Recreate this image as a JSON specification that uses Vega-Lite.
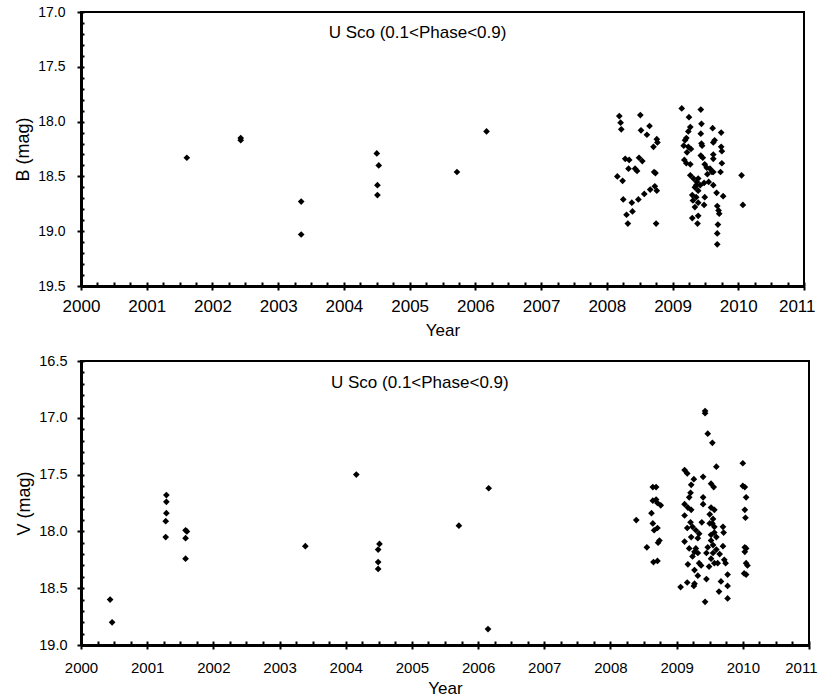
{
  "$schema": "https://vega.github.io/schema/vega-lite/v6.json",
  "background": "white",
  "padding": {"left": 13, "top": 4, "right": 0, "bottom": 0},
  "spacing": 13,
  "config": {
    "font": "Liberation Sans",
    "view": {"stroke": "black", "strokeWidth": 2},
    "axis": {
      "grid": false,
      "domainColor": "black",
      "tickColor": "black",
      "labelColor": "black",
      "titleColor": "black",
      "titleFontWeight": "normal",
      "labelFont": "Liberation Sans",
      "titleFont": "Liberation Sans"
    }
  },
  "datasets": {
    "B": [
      {"year": 2001.61, "mag": 18.33}, {"year": 2002.43, "mag": 18.15}, {"year": 2002.43, "mag": 18.17},
      {"year": 2003.35, "mag": 18.73}, {"year": 2003.35, "mag": 19.03}, {"year": 2004.50, "mag": 18.29},
      {"year": 2004.53, "mag": 18.40}, {"year": 2004.51, "mag": 18.58}, {"year": 2004.51, "mag": 18.67},
      {"year": 2005.72, "mag": 18.46}, {"year": 2006.17, "mag": 18.09},
      {"year": 2008.19, "mag": 17.95}, {"year": 2008.21, "mag": 18.01}, {"year": 2008.22, "mag": 18.07},
      {"year": 2008.51, "mag": 17.94}, {"year": 2008.52, "mag": 18.08}, {"year": 2008.61, "mag": 18.12},
      {"year": 2008.65, "mag": 18.04}, {"year": 2008.76, "mag": 18.16}, {"year": 2008.77, "mag": 18.19},
      {"year": 2008.71, "mag": 18.23}, {"year": 2008.28, "mag": 18.34}, {"year": 2008.34, "mag": 18.35},
      {"year": 2008.49, "mag": 18.33}, {"year": 2008.54, "mag": 18.36}, {"year": 2008.33, "mag": 18.43},
      {"year": 2008.43, "mag": 18.43}, {"year": 2008.46, "mag": 18.45}, {"year": 2008.16, "mag": 18.50},
      {"year": 2008.24, "mag": 18.54}, {"year": 2008.72, "mag": 18.46}, {"year": 2008.74, "mag": 18.47},
      {"year": 2008.73, "mag": 18.59}, {"year": 2008.76, "mag": 18.63}, {"year": 2008.66, "mag": 18.62},
      {"year": 2008.57, "mag": 18.66}, {"year": 2008.48, "mag": 18.71}, {"year": 2008.38, "mag": 18.74},
      {"year": 2008.25, "mag": 18.71}, {"year": 2008.39, "mag": 18.82}, {"year": 2008.30, "mag": 18.85},
      {"year": 2008.32, "mag": 18.93}, {"year": 2008.75, "mag": 18.93},
      {"year": 2009.14, "mag": 17.88}, {"year": 2009.43, "mag": 17.89}, {"year": 2009.25, "mag": 17.96},
      {"year": 2009.27, "mag": 18.05}, {"year": 2009.44, "mag": 18.02}, {"year": 2009.24, "mag": 18.09},
      {"year": 2009.43, "mag": 18.11}, {"year": 2009.61, "mag": 18.06}, {"year": 2009.74, "mag": 18.10},
      {"year": 2009.21, "mag": 18.15}, {"year": 2009.19, "mag": 18.17}, {"year": 2009.17, "mag": 18.22},
      {"year": 2009.24, "mag": 18.23}, {"year": 2009.28, "mag": 18.25}, {"year": 2009.22, "mag": 18.28},
      {"year": 2009.44, "mag": 18.20}, {"year": 2009.45, "mag": 18.22}, {"year": 2009.62, "mag": 18.19},
      {"year": 2009.64, "mag": 18.17}, {"year": 2009.74, "mag": 18.23}, {"year": 2009.75, "mag": 18.27},
      {"year": 2009.43, "mag": 18.31}, {"year": 2009.46, "mag": 18.33}, {"year": 2009.62, "mag": 18.30},
      {"year": 2009.62, "mag": 18.34}, {"year": 2009.75, "mag": 18.38}, {"year": 2009.18, "mag": 18.35},
      {"year": 2009.21, "mag": 18.38}, {"year": 2009.27, "mag": 18.39}, {"year": 2009.49, "mag": 18.39},
      {"year": 2009.52, "mag": 18.42}, {"year": 2009.57, "mag": 18.43}, {"year": 2009.60, "mag": 18.46},
      {"year": 2009.53, "mag": 18.48}, {"year": 2009.62, "mag": 18.46}, {"year": 2009.73, "mag": 18.46},
      {"year": 2010.05, "mag": 18.49}, {"year": 2009.27, "mag": 18.49}, {"year": 2009.32, "mag": 18.52},
      {"year": 2009.37, "mag": 18.55}, {"year": 2009.42, "mag": 18.58}, {"year": 2009.48, "mag": 18.56},
      {"year": 2009.55, "mag": 18.55}, {"year": 2009.62, "mag": 18.58}, {"year": 2009.34, "mag": 18.60},
      {"year": 2009.39, "mag": 18.63}, {"year": 2009.30, "mag": 18.67}, {"year": 2009.31, "mag": 18.72},
      {"year": 2009.36, "mag": 18.69}, {"year": 2009.67, "mag": 18.65}, {"year": 2009.77, "mag": 18.68},
      {"year": 2009.49, "mag": 18.69}, {"year": 2009.48, "mag": 18.76}, {"year": 2009.39, "mag": 18.74},
      {"year": 2009.34, "mag": 18.78}, {"year": 2009.68, "mag": 18.77}, {"year": 2009.70, "mag": 18.81},
      {"year": 2009.71, "mag": 18.84}, {"year": 2010.07, "mag": 18.76}, {"year": 2009.30, "mag": 18.88},
      {"year": 2009.39, "mag": 18.86}, {"year": 2009.38, "mag": 18.93}, {"year": 2009.69, "mag": 18.94},
      {"year": 2009.68, "mag": 19.02}, {"year": 2009.68, "mag": 19.12}, {"year": 2009.36, "mag": 18.58},
      {"year": 2009.39, "mag": 18.52}
    ],
    "V": [
      {"year": 2000.44, "mag": 18.60}, {"year": 2000.47, "mag": 18.80},
      {"year": 2001.29, "mag": 17.68}, {"year": 2001.29, "mag": 17.74}, {"year": 2001.29, "mag": 17.84},
      {"year": 2001.28, "mag": 17.91}, {"year": 2001.28, "mag": 18.05},
      {"year": 2001.58, "mag": 17.99}, {"year": 2001.60, "mag": 18.00}, {"year": 2001.58, "mag": 18.06},
      {"year": 2001.58, "mag": 18.24}, {"year": 2003.39, "mag": 18.13}, {"year": 2004.16, "mag": 17.50},
      {"year": 2004.51, "mag": 18.11}, {"year": 2004.49, "mag": 18.16}, {"year": 2004.49, "mag": 18.27},
      {"year": 2004.49, "mag": 18.33}, {"year": 2005.71, "mag": 17.95}, {"year": 2006.16, "mag": 17.62},
      {"year": 2006.15, "mag": 18.86},
      {"year": 2008.39, "mag": 17.90}, {"year": 2008.64, "mag": 17.61}, {"year": 2008.69, "mag": 17.61},
      {"year": 2008.64, "mag": 17.73}, {"year": 2008.69, "mag": 17.72}, {"year": 2008.71, "mag": 17.75},
      {"year": 2008.76, "mag": 17.77}, {"year": 2008.62, "mag": 17.84}, {"year": 2008.64, "mag": 17.93},
      {"year": 2008.71, "mag": 17.97}, {"year": 2008.66, "mag": 17.99}, {"year": 2008.74, "mag": 18.08},
      {"year": 2008.72, "mag": 18.10}, {"year": 2008.55, "mag": 18.14}, {"year": 2008.65, "mag": 18.27},
      {"year": 2008.71, "mag": 18.26},
      {"year": 2009.43, "mag": 16.94}, {"year": 2009.43, "mag": 16.96}, {"year": 2009.47, "mag": 17.14},
      {"year": 2009.54, "mag": 17.22}, {"year": 2009.60, "mag": 17.43}, {"year": 2009.12, "mag": 17.46},
      {"year": 2009.16, "mag": 17.49}, {"year": 2009.40, "mag": 17.52}, {"year": 2009.26, "mag": 17.54},
      {"year": 2009.22, "mag": 17.59}, {"year": 2009.52, "mag": 17.58}, {"year": 2009.56, "mag": 17.61},
      {"year": 2009.21, "mag": 17.66}, {"year": 2009.19, "mag": 17.70}, {"year": 2009.40, "mag": 17.70},
      {"year": 2009.12, "mag": 17.76}, {"year": 2009.17, "mag": 17.79}, {"year": 2009.22, "mag": 17.81},
      {"year": 2009.40, "mag": 17.76}, {"year": 2009.52, "mag": 17.79}, {"year": 2009.57, "mag": 17.81},
      {"year": 2009.12, "mag": 17.86}, {"year": 2009.21, "mag": 17.92}, {"year": 2009.38, "mag": 17.92},
      {"year": 2009.50, "mag": 17.85}, {"year": 2009.55, "mag": 17.89}, {"year": 2009.16, "mag": 17.97},
      {"year": 2009.24, "mag": 17.96}, {"year": 2009.29, "mag": 17.99}, {"year": 2009.50, "mag": 17.93},
      {"year": 2009.57, "mag": 17.96}, {"year": 2009.70, "mag": 17.96}, {"year": 2009.71, "mag": 18.01},
      {"year": 2009.12, "mag": 18.09}, {"year": 2009.22, "mag": 18.05}, {"year": 2009.32, "mag": 18.06},
      {"year": 2009.34, "mag": 18.02}, {"year": 2009.52, "mag": 18.03}, {"year": 2009.60, "mag": 18.05},
      {"year": 2009.19, "mag": 18.15}, {"year": 2009.27, "mag": 18.18}, {"year": 2009.29, "mag": 18.15},
      {"year": 2009.47, "mag": 18.14}, {"year": 2009.55, "mag": 18.12}, {"year": 2009.70, "mag": 18.13},
      {"year": 2009.24, "mag": 18.22}, {"year": 2009.32, "mag": 18.19}, {"year": 2009.45, "mag": 18.19},
      {"year": 2009.65, "mag": 18.20}, {"year": 2009.52, "mag": 18.24}, {"year": 2009.17, "mag": 18.29},
      {"year": 2009.34, "mag": 18.28}, {"year": 2009.37, "mag": 18.30}, {"year": 2009.49, "mag": 18.31},
      {"year": 2009.57, "mag": 18.28}, {"year": 2009.72, "mag": 18.25}, {"year": 2009.62, "mag": 18.28},
      {"year": 2009.74, "mag": 18.28}, {"year": 2009.27, "mag": 18.34}, {"year": 2009.32, "mag": 18.39},
      {"year": 2009.45, "mag": 18.42}, {"year": 2009.77, "mag": 18.38}, {"year": 2009.67, "mag": 18.44},
      {"year": 2009.16, "mag": 18.45}, {"year": 2009.06, "mag": 18.49}, {"year": 2009.27, "mag": 18.46},
      {"year": 2009.26, "mag": 18.48}, {"year": 2009.77, "mag": 18.48}, {"year": 2009.64, "mag": 18.53},
      {"year": 2009.77, "mag": 18.59}, {"year": 2009.43, "mag": 18.62}, {"year": 2009.54, "mag": 17.93},
      {"year": 2009.57, "mag": 18.01}, {"year": 2009.52, "mag": 18.08}, {"year": 2009.55, "mag": 18.19},
      {"year": 2009.60, "mag": 18.16},
      {"year": 2010.00, "mag": 17.40}, {"year": 2010.00, "mag": 17.60}, {"year": 2010.03, "mag": 17.61},
      {"year": 2010.05, "mag": 17.70}, {"year": 2010.03, "mag": 17.81}, {"year": 2010.04, "mag": 17.88},
      {"year": 2010.03, "mag": 18.14}, {"year": 2010.05, "mag": 18.15}, {"year": 2010.03, "mag": 18.18},
      {"year": 2010.05, "mag": 18.28}, {"year": 2010.07, "mag": 18.30}, {"year": 2010.02, "mag": 18.37},
      {"year": 2010.05, "mag": 18.38}
    ]
  },
  "vconcat": [
    {
      "width": 723,
      "height": 274,
      "resolve": {"axis": {"x": "independent", "y": "independent"}},
      "layer": [
        {
          "data": {"name": "B"},
          "mark": {"type": "point", "shape": "diamond", "filled": true, "color": "black", "size": 45, "opacity": 1},
          "encoding": {
            "x": {"field": "year", "type": "quantitative",
              "scale": {"domain": [2000, 2011], "nice": false, "zero": false},
              "axis": {"orient": "bottom", "values": [2000,2001,2002,2003,2004,2005,2006,2007,2008,2009,2010], "format": "d",
                "labelFontSize": 17, "labelPadding": 8, "tickSize": 4, "tickWidth": 2, "domainWidth": 3,
                "title": "Year", "titleFontSize": 17, "titlePadding": 8, "labelFlush": false, "labelOverlap": false}},
            "y": {"field": "mag", "type": "quantitative",
              "scale": {"domain": [17, 19.5], "reverse": true, "nice": false, "zero": false},
              "axis": {"orient": "left", "values": [17, 17.5, 18, 18.5, 19, 19.5], "format": ".1f",
                "labelFontSize": 14, "labelPadding": 12, "tickSize": 4, "tickWidth": 2, "domainWidth": 3,
                "title": "B (mag)", "titleFontSize": 18, "titlePadding": 5, "labelFlush": false, "labelOverlap": false}}
          }
        },
        {
          "data": {"values": [{}]},
          "mark": {"type": "text", "text": "U Sco (0.1<Phase<0.9)", "fontSize": 17, "align": "center", "baseline": "alphabetic", "color": "black", "font": "Liberation Sans"},
          "encoding": {
            "x": {"datum": 2005.12, "type": "quantitative",
              "axis": {"orient": "bottom", "values": [2000,2000.25,2000.5,2000.75,2001,2001.25,2001.5,2001.75,2002,2002.25,2002.5,2002.75,2003,2003.25,2003.5,2003.75,2004,2004.25,2004.5,2004.75,2005,2005.25,2005.5,2005.75,2006,2006.25,2006.5,2006.75,2007,2007.25,2007.5,2007.75,2008,2008.25,2008.5,2008.75,2009,2009.25,2009.5,2009.75,2010,2010.25,2010.5,2010.75,2011],
                "labels": false, "domain": false, "tickSize": -4, "tickWidth": 2, "title": null}},
            "y": {"datum": 17.235, "type": "quantitative",
              "axis": {"orient": "left", "values": [17,17.1,17.2,17.3,17.4,17.5,17.6,17.7,17.8,17.9,18,18.1,18.2,18.3,18.4,18.5,18.6,18.7,18.8,18.9,19,19.1,19.2,19.3,19.4,19.5],
                "labels": false, "domain": false, "tickSize": -3, "tickWidth": 2, "title": null}}
          }
        },
        {
          "data": {"name": "B"},
          "mark": {"type": "point", "opacity": 0, "size": 1},
          "encoding": {
            "x": {"field": "year", "type": "quantitative",
              "axis": {"orient": "bottom", "values": [2011], "format": "d", "labelFontSize": 17, "labelPadding": 8,
                "tickSize": 4, "tickWidth": 2, "domain": false, "title": null, "labelFlush": true, "labelFlushOffset": 11, "labelOverlap": false}}
          }
        }
      ]
    },
    {
      "width": 728,
      "height": 284,
      "resolve": {"axis": {"x": "independent", "y": "independent"}},
      "layer": [
        {
          "data": {"name": "V"},
          "mark": {"type": "point", "shape": "diamond", "filled": true, "color": "black", "size": 45, "opacity": 1},
          "encoding": {
            "x": {"field": "year", "type": "quantitative",
              "scale": {"domain": [2000, 2011], "nice": false, "zero": false},
              "axis": {"orient": "bottom", "values": [2000,2001,2002,2003,2004,2005,2006,2007,2008,2009,2010], "format": "d",
                "labelFontSize": 15, "labelPadding": 11, "tickSize": 4, "tickWidth": 2, "domainWidth": 3,
                "title": "Year", "titleFontSize": 17, "titlePadding": 5, "labelFlush": false, "labelOverlap": false}},
            "y": {"field": "mag", "type": "quantitative",
              "scale": {"domain": [16.5, 19], "reverse": true, "nice": false, "zero": false},
              "axis": {"orient": "left", "values": [16.5, 17, 17.5, 18, 18.5, 19], "format": ".1f",
                "labelFontSize": 14.5, "labelPadding": 10, "tickSize": 4, "tickWidth": 2, "domainWidth": 3,
                "title": "V (mag)", "titleFontSize": 18, "titlePadding": 5, "labelFlush": false, "labelOverlap": false}}
          }
        },
        {
          "data": {"values": [{}]},
          "mark": {"type": "text", "text": "U Sco (0.1<Phase<0.9)", "fontSize": 17, "align": "center", "baseline": "alphabetic", "color": "black", "font": "Liberation Sans"},
          "encoding": {
            "x": {"datum": 2005.12, "type": "quantitative",
              "axis": {"orient": "bottom", "values": [2000,2000.25,2000.5,2000.75,2001,2001.25,2001.5,2001.75,2002,2002.25,2002.5,2002.75,2003,2003.25,2003.5,2003.75,2004,2004.25,2004.5,2004.75,2005,2005.25,2005.5,2005.75,2006,2006.25,2006.5,2006.75,2007,2007.25,2007.5,2007.75,2008,2008.25,2008.5,2008.75,2009,2009.25,2009.5,2009.75,2010,2010.25,2010.5,2010.75,2011],
                "labels": false, "domain": false, "tickSize": -4, "tickWidth": 2, "title": null}},
            "y": {"datum": 16.735, "type": "quantitative",
              "axis": {"orient": "left", "values": [16.5,16.6,16.7,16.8,16.9,17,17.1,17.2,17.3,17.4,17.5,17.6,17.7,17.8,17.9,18,18.1,18.2,18.3,18.4,18.5,18.6,18.7,18.8,18.9,19],
                "labels": false, "domain": false, "tickSize": -3, "tickWidth": 2, "title": null}}
          }
        },
        {
          "data": {"name": "V"},
          "mark": {"type": "point", "opacity": 0, "size": 1},
          "encoding": {
            "x": {"field": "year", "type": "quantitative",
              "axis": {"orient": "bottom", "values": [2011], "format": "d", "labelFontSize": 15, "labelPadding": 11,
                "tickSize": 4, "tickWidth": 2, "domain": false, "title": null, "labelFlush": true, "labelFlushOffset": 8, "labelOverlap": false}}
          }
        }
      ]
    }
  ]
}
